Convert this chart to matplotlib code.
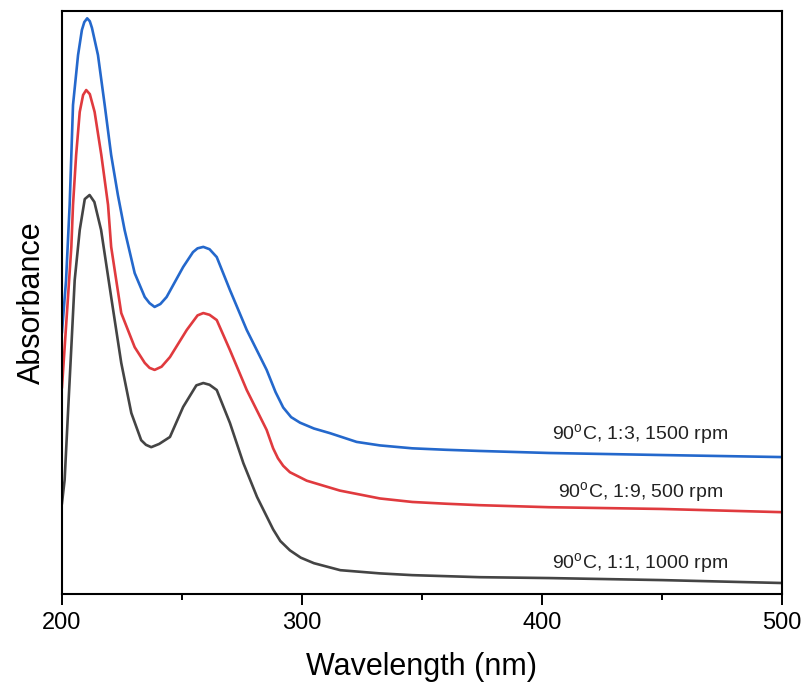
import numpy as np
import matplotlib
matplotlib.use('Agg')
import matplotlib.pyplot as plt
from matplotlib.ticker import MultipleLocator

plt.rcParams['font.family'] = ['Liberation Sans', 'DejaVu Sans']
plt.rcParams['mathtext.fontset'] = 'custom'
plt.rcParams['mathtext.rm'] = 'Liberation Sans'

# wavelength (nm) and absorbance (a.u.)
wl_blue = [200, 201.7, 203.2, 203.9, 204.6, 206.7, 208.3, 209.3, 210.5, 211.6, 212.5,
           215, 217.8, 220.5, 223.3, 226.1, 230.3, 234.5, 236.5, 238.6, 241, 243.6,
           250.5, 254.6, 256.5, 258.9, 261.5, 264.5, 270, 277, 285.3, 289, 292.2,
           295.5, 299.2, 305, 311.7, 322.8, 332.5, 346, 360, 374, 403, 450, 500]
abs_blue = [0.899, 1.077, 1.335, 1.506, 1.678, 1.849, 1.935, 1.962, 1.975, 1.965, 1.942,
            1.849, 1.678, 1.506, 1.369, 1.249, 1.101, 1.019, 0.998, 0.985, 0.995, 1.019,
            1.122, 1.173, 1.186, 1.191, 1.183, 1.156, 1.043, 0.906, 0.769, 0.693, 0.640,
            0.607, 0.588, 0.568, 0.552, 0.522, 0.510, 0.500, 0.495, 0.491, 0.484, 0.477,
            0.470]

wl_red = [200, 201.6, 203.9, 204.6, 205.9, 207.4, 208.8, 210.1, 211.6, 213.6, 216.4,
          219.2, 220.5, 224.7, 230.3, 234.5, 236.5, 238.6, 241.5, 245, 252, 256.5,
          258.9, 261.5, 264.5, 270, 277, 285.3, 288, 290, 292.2, 295, 302, 315.8,
          332.5, 346, 360, 374, 403, 450, 500]
abs_red = [0.710, 0.906, 1.191, 1.335, 1.506, 1.654, 1.712, 1.729, 1.715, 1.654, 1.506,
           1.335, 1.191, 0.964, 0.847, 0.793, 0.776, 0.769, 0.780, 0.813, 0.906, 0.956,
           0.964, 0.958, 0.940, 0.837, 0.700, 0.563, 0.500, 0.466, 0.440, 0.418, 0.389,
           0.355, 0.328, 0.316, 0.310, 0.305, 0.298, 0.292, 0.281]

wl_black = [200, 201.1, 202.5, 203.9, 205.3, 207.4, 209.5, 211.5, 213.5, 216.3, 220.5,
            224.7, 228.9, 233, 235, 237.2, 240.5, 245, 250.5, 256, 258.9, 261.5, 264.5,
            270, 275.6, 281.3, 288, 291, 295, 299.5, 305, 316, 332.5, 346, 374, 403,
            450, 500]
abs_black = [0.312, 0.391, 0.621, 0.847, 1.077, 1.249, 1.355, 1.369, 1.345, 1.249, 1.019,
             0.793, 0.621, 0.528, 0.512, 0.504, 0.515, 0.539, 0.642, 0.716, 0.724, 0.718,
             0.700, 0.587, 0.449, 0.333, 0.222, 0.182, 0.150, 0.125, 0.106, 0.082, 0.071,
             0.065, 0.058, 0.055, 0.048, 0.038]

labels = ['90$^{\\mathrm{o}}$C, 1:3, 1500 rpm',
          '90$^{\\mathrm{o}}$C, 1:9, 500 rpm',
          '90$^{\\mathrm{o}}$C, 1:1, 1000 rpm']
label_pos = [(441, 0.546), (441, 0.347), (441, 0.106)]

fig = plt.figure(figsize=(8.07, 6.90), dpi=100)
ax = fig.add_axes([0.0768, 0.139, 0.892, 0.845])

ax.plot(wl_blue, abs_blue, color='#2468cc', lw=1.9, solid_joinstyle='round')
ax.plot(wl_red, abs_red, color='#e03a3e', lw=1.9, solid_joinstyle='round')
ax.plot(wl_black, abs_black, color='#444444', lw=1.9, solid_joinstyle='round')

for txt, (x, y) in zip(labels, label_pos):
    ax.text(x, y, txt, ha='center', va='center', fontsize=14, color='#222222')

ax.set_xlim(200, 500)
ax.set_ylim(0, 2.0)
ax.xaxis.set_major_locator(MultipleLocator(100))
ax.xaxis.set_minor_locator(MultipleLocator(50))
ax.tick_params(axis='x', which='major', direction='out', length=8, width=1.4,
               labelsize=17, pad=5)
ax.tick_params(axis='x', which='minor', direction='out', length=4, width=1.4)
ax.set_yticks([])
for s in ax.spines.values():
    s.set_linewidth(1.5)

ax.set_xlabel('Wavelength (nm)', fontsize=22, labelpad=13)
ax.set_ylabel('Absorbance', fontsize=22, labelpad=11)

fig.savefig('out.png', dpi=100)
